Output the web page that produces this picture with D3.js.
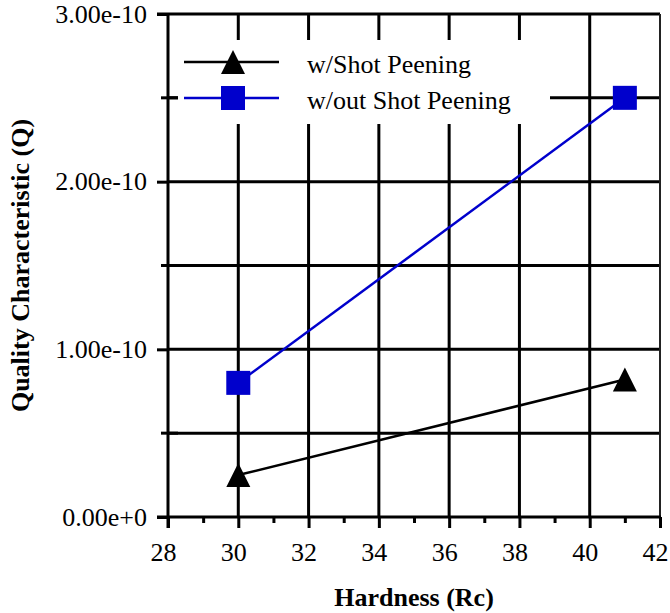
<!DOCTYPE html>
<html>
<head>
<meta charset="utf-8">
<script src="https://cdn.jsdelivr.net/npm/d3@7"></script>
<style>
  body { margin: 0; background: #fff; }
  svg text { font-family: "Liberation Serif", Tinos, "Times New Roman", Times, "Nimbus Roman", "DejaVu Serif", serif; fill: #000; }
</style>
</head>
<body>
<div id="chart"></div>
<script>
// data
const hardness = [30, 41];
const withPeening = [0.25e-10, 0.82e-10];
const withoutPeening = [0.8e-10, 2.5e-10];
const seriesNames = ["w/Shot Peening", "w/out Shot Peening"];

const xTicks = [28, 30, 32, 34, 36, 38, 40, 42];
const xMinorTicks = [29, 31, 33, 35, 37, 39, 41];
const yTicks = [0, 1e-10, 2e-10, 3e-10];
const yTickLabels = ["0.00e+0", "1.00e-10", "2.00e-10", "3.00e-10"];
const yMinorTicks = [0.5e-10, 1.5e-10, 2.5e-10];

const width = 670, height = 613;
const blue = "#0000cc";
const serif = "'Liberation Serif', Tinos, 'Times New Roman', Times, serif";

const x = d3.scaleLinear().domain([28, 42]).range([168, 660]);
const y = d3.scaleLinear().domain([0, 3e-10]).range([517, 14]);

const svg = d3.select("#chart").append("svg")
    .attr("width", width)
    .attr("height", height)
    .attr("font-family", serif);

// grid
svg.append("g").selectAll("line")
    .data(xTicks.slice(1, -1))
    .join("line")
    .attr("x1", d => x(d)).attr("x2", d => x(d))
    .attr("y1", y(0)).attr("y2", y(3e-10))
    .attr("stroke", "#000").attr("stroke-width", 3);

svg.append("g").selectAll("line")
    .data([0.5e-10, 1e-10, 1.5e-10, 2e-10, 2.5e-10])
    .join("line")
    .attr("x1", x(28)).attr("x2", x(42))
    .attr("y1", d => y(d)).attr("y2", d => y(d))
    .attr("stroke", "#000").attr("stroke-width", 3);

// top border (with the outward tick) and right border
svg.append("line")
    .attr("x1", x(28) - 11).attr("x2", x(42))
    .attr("y1", y(3e-10)).attr("y2", y(3e-10))
    .attr("stroke", "#000").attr("stroke-width", 3);
svg.append("line")
    .attr("x1", x(42)).attr("x2", x(42))
    .attr("y1", y(3e-10)).attr("y2", y(0))
    .attr("stroke", "#222").attr("stroke-width", 2);

// legend background hides the grid behind it
svg.append("rect")
    .attr("x", 178).attr("y", 40)
    .attr("width", 372).attr("height", 84)
    .attr("fill", "#fff");

// axes
const xAxis = svg.append("g")
    .attr("transform", "translate(0," + y(0) + ")")
    .call(d3.axisBottom(x).tickValues(xTicks).tickSize(11).tickPadding(15).tickSizeOuter(0));
xAxis.attr("font-family", serif);
xAxis.select(".domain").remove();
xAxis.selectAll("line").attr("stroke-width", 3);
xAxis.selectAll("text").attr("font-size", 26).attr("dx", -5);

const xMinor = svg.append("g")
    .attr("transform", "translate(0," + y(0) + ")")
    .call(d3.axisBottom(x).tickValues(xMinorTicks).tickSize(6).tickFormat(""));
xMinor.select(".domain").remove();
xMinor.selectAll("line").attr("stroke-width", 3);

svg.append("line")
    .attr("x1", x(28) - 11).attr("x2", x(42) + 1)
    .attr("y1", y(0)).attr("y2", y(0))
    .attr("stroke", "#000").attr("stroke-width", 3);

const yAxis = svg.append("g")
    .attr("transform", "translate(" + x(28) + ",0)")
    .call(d3.axisLeft(y).tickValues(yTicks).tickSize(11).tickPadding(10)
        .tickFormat((d, i) => yTickLabels[i]));
yAxis.attr("font-family", serif);
yAxis.select(".domain").remove();
yAxis.selectAll("line").attr("stroke-width", 3);
yAxis.selectAll("text").attr("font-size", 26);

svg.append("g").selectAll("line")
    .data(yMinorTicks)
    .join("line")
    .attr("x1", x(28) - 7).attr("x2", x(28) + 10)
    .attr("y1", d => y(d)).attr("y2", d => y(d))
    .attr("stroke", "#000").attr("stroke-width", 3);

svg.append("line")
    .attr("x1", x(28)).attr("x2", x(28))
    .attr("y1", y(3e-10) - 1).attr("y2", y(0) + 11)
    .attr("stroke", "#000").attr("stroke-width", 3);

// axis titles
svg.append("text")
    .attr("x", (x(28) + x(42)) / 2)
    .attr("y", 606)
    .attr("text-anchor", "middle")
    .attr("font-size", 26)
    .attr("font-weight", "bold")
    .text("Hardness (Rc)");

svg.append("text")
    .attr("transform", "translate(29," + ((y(0) + y(3e-10)) / 2) + ") rotate(-90)")
    .attr("text-anchor", "middle")
    .attr("font-size", 26)
    .attr("font-weight", "bold")
    .text("Quality Characteristic (Q)");

// series
const lineFn = d3.line()
    .x(d => x(d[0]))
    .y(d => y(d[1]));

const withData = d3.zip(hardness, withPeening);
const withoutData = d3.zip(hardness, withoutPeening);

svg.append("path")
    .datum(withData)
    .attr("d", lineFn)
    .attr("fill", "none")
    .attr("stroke", "#000")
    .attr("stroke-width", 2.5);

svg.append("path")
    .datum(withoutData)
    .attr("d", lineFn)
    .attr("fill", "none")
    .attr("stroke", blue)
    .attr("stroke-width", 2.5);

const tri = "M0,-12L12,12L-12,12Z";

svg.append("g").selectAll("path")
    .data(withData)
    .join("path")
    .attr("d", tri)
    .attr("transform", d => "translate(" + x(d[0]) + "," + y(d[1]) + ")")
    .attr("fill", "#000");

svg.append("g").selectAll("rect")
    .data(withoutData)
    .join("rect")
    .attr("x", d => x(d[0]) - 12)
    .attr("y", d => y(d[1]) - 12)
    .attr("width", 24).attr("height", 24)
    .attr("fill", blue);

// legend
const legend = svg.append("g");
const rows = [
    { name: seriesNames[0], color: "#000", marker: "tri", cy: 62 },
    { name: seriesNames[1], color: blue, marker: "sq", cy: 98 }
];
rows.forEach(r => {
    legend.append("line")
        .attr("x1", 184).attr("x2", 279)
        .attr("y1", r.cy).attr("y2", r.cy)
        .attr("stroke", r.color).attr("stroke-width", 2.5);
    if (r.marker === "tri") {
        legend.append("path")
            .attr("d", tri)
            .attr("transform", "translate(233," + r.cy + ")")
            .attr("fill", r.color);
    } else {
        legend.append("rect")
            .attr("x", 221).attr("y", r.cy - 12)
            .attr("width", 24).attr("height", 24)
            .attr("fill", r.color);
    }
    legend.append("text")
        .attr("x", 307).attr("y", r.cy + 11)
        .attr("font-size", 26)
        .text(r.name);
});
</script>
</body>
</html>
